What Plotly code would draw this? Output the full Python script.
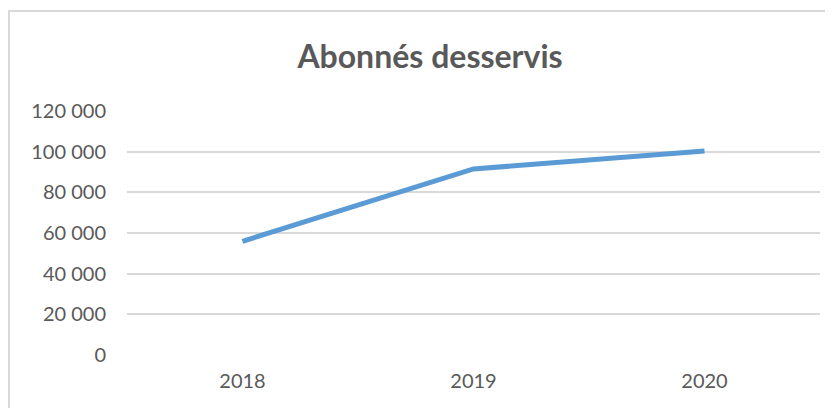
import plotly.graph_objects as go

years = ["2018", "2019", "2020"]
subscribers = [55900, 91500, 100300]
y_ticks = [0, 20000, 40000, 60000, 80000, 100000, 120000]

# page body has an 8px margin; size the figure so it fills the 833x408 window
OFF = 8
W, H = 833 - OFF, 408 - OFF
L, T = 127 - OFF, 111 - OFF
R = W - (820 - OFF)
B = H - (355 - OFF)
pw, ph = W - L - R, H - T - B

fig = go.Figure()
fig.add_trace(go.Scatter(
    x=years, y=subscribers, mode="lines",
    line=dict(color="#5b9bd5", width=5),
    hoverinfo="x+y",
))

fig.update_layout(
    width=W, height=H,
    margin=dict(l=L, r=R, t=T, b=B, autoexpand=False),
    paper_bgcolor="white", plot_bgcolor="white",
    separators=", ",
    showlegend=False,
    font=dict(family="Lato", color="#595959", size=20),
    title=dict(
        text="<b>Abonnés desservis</b>",
        x=(430 - OFF) / W, xanchor="center", xref="container",
        y=1 - (57 - OFF) / H, yanchor="middle", yref="container",
        font=dict(family="Lato", size=32, color="#595959"),
    ),
    xaxis=dict(
        type="category", showgrid=False, zeroline=False, showline=False,
        ticks="", ticklabelstandoff=12,
        range=[-0.5, 2.5],
    ),
    yaxis=dict(
        range=[0, 120000], tickvals=y_ticks, tickformat=",d",
        showgrid=True, gridcolor="#d9d9d9", gridwidth=2,
        zeroline=False, showline=False, ticks="",
        ticklabelstandoff=20,
    ),
    shapes=[dict(
        type="rect", xref="paper", yref="paper",
        x0=(9 - OFF - L) / pw, x1=(W + 20 - L) / pw,
        y0=-(H + 20 - (T + ph)) / ph, y1=(T + ph - (11 - OFF)) / ph,
        line=dict(color="#d9d9d9", width=2), fillcolor="rgba(0,0,0,0)",
        layer="below",
    )],
)

fig.write_html("out.html")
